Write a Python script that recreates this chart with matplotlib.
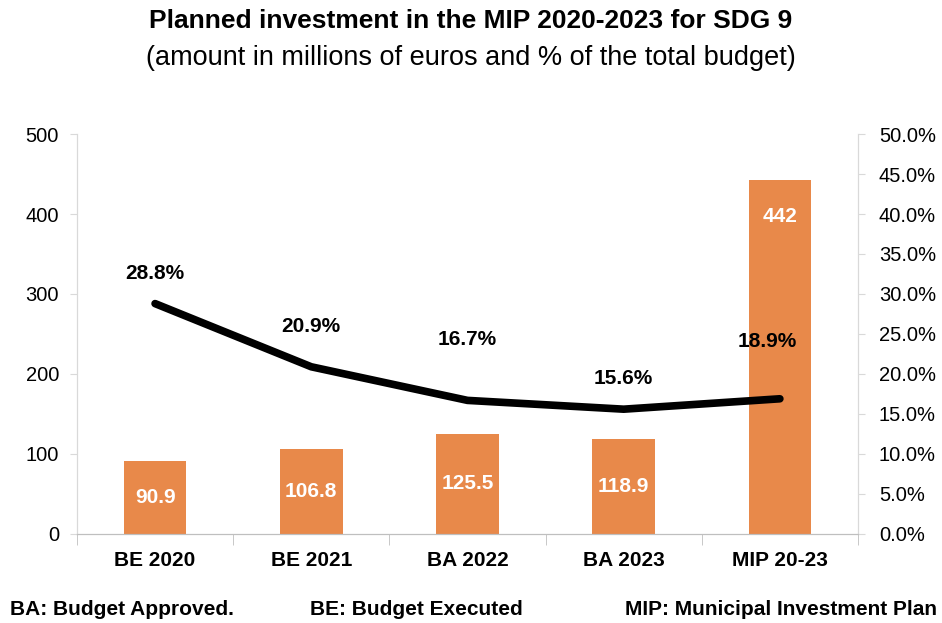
import numpy as np
import matplotlib.pyplot as plt
from matplotlib.ticker import FuncFormatter, FixedLocator

plt.rcParams['font.family'] = ['Liberation Sans', 'DejaVu Sans']

# Data
categories = ['BE 2020', 'BE 2021', 'BA 2022', 'BA 2023', 'MIP 20-23']
amounts = [90.9, 106.8, 125.5, 118.9, 442]
amount_labels = ['90.9', '106.8', '125.5', '118.9', '442']
pct_line = [28.8, 20.9, 16.7, 15.6, 16.9]   # where the line is drawn
pct_labels = ['28.8%', '20.9%', '16.7%', '15.6%', '18.9%']

bar_color = '#E8894A'
axis_gray = '#D9D9D9'

fig = plt.figure(figsize=(9.42, 6.23), dpi=100)
ax = fig.add_axes([0.0817, 0.1429, 0.8291, 0.6420])
x = np.arange(len(categories))

bars = ax.bar(x, amounts, width=0.40, color=bar_color, zorder=2)
ax.set_xlim(-0.5, len(categories) - 0.5)
ax.set_ylim(0, 500)
ax.set_yticks(range(0, 501, 100))

# bar labels: centred for the small bars, near the top for the big one
for i, b in enumerate(bars):
    if amounts[i] > 300:
        ax.annotate(amount_labels[i], (x[i], amounts[i]), xytext=(0, -26),
                    textcoords='offset points', ha='center', va='center',
                    color='white', fontsize=15, fontweight='bold', zorder=4)
    else:
        ax.text(x[i], amounts[i] / 2, amount_labels[i], ha='center', va='center',
                color='white', fontsize=15, fontweight='bold', zorder=4)

ax2 = ax.twinx()
ax2.set_ylim(0, 50)
ax2.set_yticks(np.arange(0, 50.1, 5))
ax2.yaxis.set_major_formatter(FuncFormatter(lambda v, p: '%.1f%%' % v))
ax2.plot(x, pct_line, color='black', linewidth=5.5, solid_capstyle='round',
         solid_joinstyle='round', zorder=3)

# label offsets (points) for the line labels
lab_dx = [0, 0, 0, 0, -9]
lab_dy = [22, 29, 44, 22, 41]
for i in range(len(categories)):
    ax2.annotate(pct_labels[i], (x[i], pct_line[i]), xytext=(lab_dx[i], lab_dy[i]),
                 textcoords='offset points', ha='center', va='center',
                 fontsize=15, fontweight='bold', color='black')

# axes styling
for a in (ax, ax2):
    a.spines['top'].set_visible(False)
    a.spines['left'].set_color(axis_gray)
    a.spines['right'].set_color(axis_gray)
    a.spines['bottom'].set_color('#BFBFBF')
ax.tick_params(axis='y', labelsize=14.5, length=5, color=axis_gray, pad=8)
ax2.tick_params(axis='y', labelsize=14.5, length=5, color=axis_gray, pad=10)

ax.set_xticks(x)
ax.set_xticklabels(categories, fontsize=15, fontweight='bold')
ax.tick_params(axis='x', which='major', length=0, pad=12)
ax.xaxis.set_minor_locator(FixedLocator(np.arange(-0.5, len(categories), 1)))
ax.tick_params(axis='x', which='minor', length=8, color='#BFBFBF')

fig.text(0.5, 0.966, 'Planned investment in the MIP 2020-2023 for SDG 9',
         ha='center', va='center', fontsize=19, fontweight='bold')
fig.text(0.5, 0.907, '(amount in millions of euros and % of the total budget)',
         ha='center', va='center', fontsize=19.5)

fig.text(0.011, 0.022, 'BA: Budget Approved.', ha='left', va='center',
         fontsize=15, fontweight='bold')
fig.text(0.329, 0.022, 'BE: Budget Executed', ha='left', va='center',
         fontsize=15, fontweight='bold')
fig.text(0.995, 0.022, 'MIP: Municipal Investment Plan', ha='right', va='center',
         fontsize=15, fontweight='bold')

fig.savefig('out.png', dpi=100)
